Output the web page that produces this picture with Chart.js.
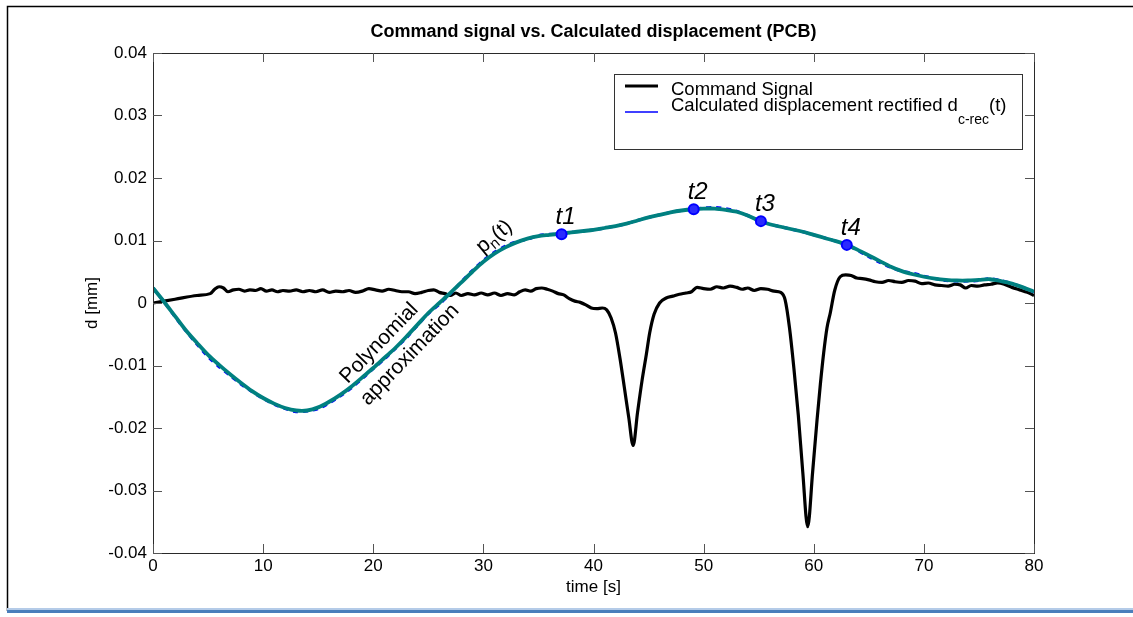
<!DOCTYPE html>
<html>
<head>
<meta charset="utf-8">
<title>Command signal vs. Calculated displacement (PCB)</title>
<script src="https://cdn.jsdelivr.net/npm/chart.js@4.4.1/dist/chart.umd.min.js"></script>
<style>
html, body { margin: 0; padding: 0; background: #fff; }
#wrap { width: 1133px; height: 617px; }
</style>
</head>
<body>
<div id="wrap"><canvas id="chart" width="1133" height="617"></canvas></div>
<script>
// command signal d(t) [mm]
var cmdTime = [
  0, 2, 4, 5.2, 5.6, 6.0, 6.4, 6.8, 7.3, 7.8,
  8.3, 8.8, 9.3, 9.8, 10.3, 10.8, 11.3, 11.8, 12.4, 13.0,
  13.6, 14.2, 14.8, 15.4, 16.0, 16.6, 17.2, 17.8, 18.4, 19.0,
  19.6, 20.2, 20.8, 21.4, 22.0, 22.6, 23.2, 23.8, 24.4, 25.0,
  25.5, 26.0, 26.5, 27.0, 27.5, 28.0, 28.6, 29.2, 29.8, 30.4,
  31.0, 31.6, 32.2, 32.8, 33.3, 33.8, 34.3, 34.8, 35.3, 35.8,
  36.3, 36.8, 37.3, 37.8, 38.3, 38.8, 39.3, 39.8, 40.3, 40.8,
  41.2, 41.6, 42.0, 42.4, 42.8, 43.2, 43.6, 44.0, 44.4, 44.8,
  45.1, 45.5, 46.0, 46.6, 47.2, 47.8, 48.4, 48.9, 49.4, 50.0,
  50.6, 51.2, 51.8, 52.4, 53.0, 53.5, 54.0, 54.6, 55.2, 55.8,
  56.4, 57.0, 57.4, 57.8, 58.2, 58.6, 59.0, 59.45, 59.9, 60.3,
  60.6, 60.9, 61.2, 61.5, 61.9, 62.4, 62.9, 63.4, 63.9, 64.4,
  65.0, 65.6, 66.2, 66.8, 67.4, 68.0, 68.6, 69.2, 69.8, 70.4,
  71.0, 71.6, 72.2, 72.8, 73.3, 73.8, 74.3, 74.9, 75.5, 76.1,
  76.7, 77.3, 78.0, 78.7, 79.4, 80.0
];
var cmdValue = [
  0.0000, 0.0006, 0.0012, 0.0015, 0.0022, 0.0026, 0.0024, 0.0018, 0.0021, 0.0022,
  0.0019, 0.0021, 0.0020, 0.0023, 0.0019, 0.0021, 0.0018, 0.0020, 0.0019, 0.0021,
  0.0018, 0.0020, 0.0018, 0.0021, 0.0017, 0.0019, 0.0018, 0.0020, 0.0017, 0.0019,
  0.0023, 0.0021, 0.0019, 0.0022, 0.0020, 0.0018, 0.0018, 0.0015, 0.0017, 0.0020,
  0.0021, 0.0017, 0.0015, 0.0012, 0.0016, 0.0012, 0.0015, 0.0013, 0.0016, 0.0013,
  0.0016, 0.0012, 0.0015, 0.0013, 0.0018, 0.0021, 0.0019, 0.0023, 0.0024, 0.0022,
  0.0019, 0.0015, 0.0013, 0.0007, 0.0003, 0.0001, -0.0003, -0.0008, -0.0009, -0.0008,
  -0.0011, -0.0024, -0.0048, -0.0088, -0.0135, -0.0183, -0.0228, -0.0175, -0.0125, -0.0082,
  -0.0048, -0.0018, 0.0000, 0.0008, 0.0011, 0.0014, 0.0016, 0.0018, 0.0025, 0.0023,
  0.0022, 0.0026, 0.0024, 0.0027, 0.0025, 0.0022, 0.0024, 0.0020, 0.0023, 0.0022,
  0.0019, 0.0017, 0.0005, -0.0040, -0.0105, -0.0180, -0.0270, -0.0358, -0.0270, -0.0187,
  -0.0130, -0.0080, -0.0040, -0.0016, 0.0020, 0.0042, 0.0045, 0.0044, 0.0040, 0.0039,
  0.0037, 0.0034, 0.0033, 0.0036, 0.0034, 0.0033, 0.0036, 0.0035, 0.0031, 0.0032,
  0.0029, 0.0028, 0.0027, 0.0030, 0.0029, 0.0024, 0.0028, 0.0027, 0.0029, 0.0030,
  0.0032, 0.0030, 0.0025, 0.0021, 0.0017, 0.0012
];

// polynomial approximation p_n(t) and rectified displacement d_c-rec(t), same time base
var polyTime = [
  0, 1, 2, 3, 4, 5, 6, 7, 8, 9,
  10, 11, 12, 13, 14, 15, 16, 17, 18, 19,
  20, 21, 22, 23, 24, 25, 26, 27, 28, 29,
  30, 31, 32, 33, 34, 35, 36, 37, 38, 39,
  40, 41, 42, 43, 44, 45, 46, 47, 48, 49,
  50, 51, 52, 53, 54, 55, 56, 57, 58, 59,
  60, 61, 62, 63, 64, 65, 66, 67, 68, 69,
  70, 71, 72, 73, 74, 75, 76, 77, 78, 79,
  80
];
var polyValue = [
  0.0024, 0.0002, -0.0021, -0.0044, -0.0064, -0.0083, -0.0099, -0.0114, -0.0128, -0.0141,
  -0.0152, -0.0161, -0.0168, -0.0172, -0.0172, -0.0167, -0.0158, -0.0147, -0.0134, -0.0119,
  -0.0104, -0.0088, -0.0072, -0.0054, -0.0035, -0.0016, 0.0000, 0.0016, 0.0033, 0.0050,
  0.0066, 0.0079, 0.0089, 0.0097, 0.0103, 0.0107, 0.0109, 0.0111, 0.0113, 0.0115,
  0.0117, 0.0120, 0.0123, 0.0127, 0.0132, 0.0137, 0.0141, 0.0145, 0.0148, 0.0150,
  0.0151, 0.0151, 0.0149, 0.0146, 0.0140, 0.0132, 0.0126, 0.0122, 0.0118, 0.0114,
  0.0109, 0.0104, 0.0099, 0.0093, 0.0085, 0.0076, 0.0067, 0.0058, 0.0051, 0.0046,
  0.0042, 0.0039, 0.0037, 0.0036, 0.0036, 0.0037, 0.0038, 0.0035, 0.0031, 0.0025,
  0.0018
];
var calcValue = [
  0.0024, 0.0002, -0.0022, -0.0045, -0.0066, -0.0086, -0.0102, -0.0116, -0.0130, -0.0142,
  -0.0153, -0.0162, -0.0169, -0.0174, -0.0173, -0.0169, -0.0160, -0.0149, -0.0136, -0.0121,
  -0.0105, -0.0090, -0.0073, -0.0056, -0.0036, -0.0017, -0.0002, 0.0015, 0.0034, 0.0052,
  0.0068, 0.0081, 0.0091, 0.0098, 0.0102, 0.0108, 0.0110, 0.0110, 0.0113, 0.0115,
  0.0117, 0.0120, 0.0123, 0.0127, 0.0132, 0.0137, 0.0141, 0.0145, 0.0148, 0.0150,
  0.0152, 0.0153, 0.0151, 0.0147, 0.0140, 0.0132, 0.0126, 0.0122, 0.0118, 0.0114,
  0.0109, 0.0104, 0.0099, 0.0093, 0.0084, 0.0074, 0.0065, 0.0057, 0.0051, 0.0048,
  0.0043, 0.0039, 0.0036, 0.0035, 0.0035, 0.0036, 0.0039, 0.0036, 0.0031, 0.0025,
  0.0018
];

// marked instants t1..t4
var markLabel = ['t1', 't2', 't3', 't4'];
var markTime = [37.1, 49.1, 55.2, 63.0];
var markValue = [0.0110, 0.0150, 0.0131, 0.0093];

var xTicks = [0, 10, 20, 30, 40, 50, 60, 70, 80];
var yTicks = [-0.04, -0.03, -0.02, -0.01, 0, 0.01, 0.02, 0.03, 0.04];

var FONT = '"Liberation Sans", Arial, sans-serif';
var TEAL = '#008080';
var BLUE = '#0000ff';

function zip(xs, ys) {
  var out = [];
  for (var i = 0; i < xs.length; i++) out.push({x: xs[i], y: ys[i]});
  return out;
}

function fmtY(v) {
  if (Math.abs(v) < 1e-9) return '0';
  return v.toFixed(2);
}

// draws "base" + subscript + "tail" starting at x (left aligned)
function drawSub(ctx, x, y, base, sub, tail, size, subSize, subDrop) {
  ctx.font = size + 'px ' + FONT;
  ctx.fillText(base, x, y);
  x += ctx.measureText(base).width;
  ctx.font = subSize + 'px ' + FONT;
  ctx.fillText(sub, x, y + subDrop);
  x += ctx.measureText(sub).width;
  ctx.font = size + 'px ' + FONT;
  ctx.fillText(tail, x, y);
  return x + ctx.measureText(tail).width;
}

var figurePlugin = {
  id: 'figure',
  beforeDraw: function (chart) {
    var ctx = chart.ctx;
    ctx.save();
    ctx.fillStyle = '#fff';
    ctx.fillRect(0, 0, chart.width, chart.height);
    // outer frame
    ctx.strokeStyle = '#000';
    ctx.lineWidth = 1.5;
    ctx.beginPath();
    ctx.moveTo(7.5, 611);
    ctx.lineTo(7.5, 6.5);
    ctx.lineTo(1133, 6.5);
    ctx.stroke();
    ctx.fillStyle = '#b4cbe8';
    ctx.fillRect(7, 608, 1126, 2);
    ctx.fillStyle = '#4a7ebb';
    ctx.fillRect(7, 610, 1126, 3);
    ctx.restore();
  },
  afterDatasetsDraw: function (chart) {
    var ctx = chart.ctx;
    var a = chart.chartArea;
    var xs = chart.scales.x, ys = chart.scales.y;
    ctx.save();

    // axes box with inward ticks on all four sides
    ctx.strokeStyle = '#2a2a2a';
    ctx.lineWidth = 1;
    ctx.strokeRect(Math.round(a.left) + 0.5, Math.round(a.top) + 0.5,
      Math.round(a.right - a.left), Math.round(a.bottom - a.top));
    ctx.strokeStyle = '#555';
    ctx.beginPath();
    xTicks.forEach(function (v) {
      var px = Math.round(xs.getPixelForValue(v)) + 0.5;
      ctx.moveTo(px, a.bottom); ctx.lineTo(px, a.bottom - 9);
      ctx.moveTo(px, a.top); ctx.lineTo(px, a.top + 9);
    });
    yTicks.forEach(function (v) {
      var py = Math.round(ys.getPixelForValue(v)) + 0.5;
      ctx.moveTo(a.left, py); ctx.lineTo(a.left + 9, py);
      ctx.moveTo(a.right, py); ctx.lineTo(a.right - 9, py);
    });
    ctx.stroke();

    // tick labels
    ctx.fillStyle = '#000';
    ctx.font = '17px ' + FONT;
    ctx.textAlign = 'right';
    ctx.textBaseline = 'middle';
    yTicks.forEach(function (v) {
      ctx.fillText(fmtY(v), a.left - 6, ys.getPixelForValue(v));
    });
    ctx.textAlign = 'center';
    ctx.textBaseline = 'top';
    xTicks.forEach(function (v) {
      ctx.fillText(String(v), xs.getPixelForValue(v), a.bottom + 5);
    });

    // axis titles
    ctx.font = '17px ' + FONT;
    ctx.fillText('time [s]', (a.left + a.right) / 2, a.bottom + 26);
    ctx.save();
    ctx.translate(92, (a.top + a.bottom) / 2);
    ctx.rotate(-Math.PI / 2);
    ctx.textBaseline = 'middle';
    ctx.fillText('d [mm]', 0, 0);
    ctx.restore();

    // title
    ctx.font = 'bold 18px ' + FONT;
    ctx.textBaseline = 'middle';
    ctx.fillText('Command signal vs. Calculated displacement (PCB)', (a.left + a.right) / 2, 32);

    // t1..t4 labels above the marked points
    ctx.font = 'italic 24px ' + FONT;
    ctx.textBaseline = 'alphabetic';
    for (var i = 0; i < markLabel.length; i++) {
      ctx.fillText(markLabel[i], xs.getPixelForValue(markTime[i]) + 4,
        ys.getPixelForValue(markValue[i]) - 10);
    }

    // p_n(t) along the rising part of the curve
    ctx.save();
    ctx.translate(xs.getPixelForValue(31.0), ys.getPixelForValue(0.0106));
    ctx.rotate(-40 * Math.PI / 180);
    ctx.textAlign = 'left';
    ctx.font = '21px ' + FONT;
    var w = ctx.measureText('p').width;
    ctx.font = '15px ' + FONT;
    w += ctx.measureText('n').width;
    ctx.font = '21px ' + FONT;
    w += ctx.measureText('(t)').width;
    ctx.textBaseline = 'middle';
    drawSub(ctx, -w / 2, 0, 'p', 'n', '(t)', 21, 15, 6);
    ctx.restore();

    // two-line note either side of the curve
    ctx.save();
    ctx.translate(xs.getPixelForValue(21.93), ys.getPixelForValue(-0.00736));
    ctx.rotate(-46 * Math.PI / 180);
    ctx.textAlign = 'center';
    ctx.textBaseline = 'middle';
    ctx.font = '21px ' + FONT;
    ctx.fillText('Polynomial', -6.5, -15);
    ctx.fillText('approximation', 6.5, 15);
    ctx.restore();

    // legend
    ctx.fillStyle = '#fff';
    ctx.fillRect(615, 75, 407, 74);
    ctx.strokeStyle = '#333';
    ctx.lineWidth = 1;
    ctx.strokeRect(614.5, 74.5, 408, 75);
    ctx.strokeStyle = '#000';
    ctx.lineWidth = 3;
    ctx.beginPath(); ctx.moveTo(625, 86); ctx.lineTo(658, 86); ctx.stroke();
    ctx.strokeStyle = BLUE;
    ctx.lineWidth = 1.5;
    ctx.beginPath(); ctx.moveTo(625, 112); ctx.lineTo(658, 112); ctx.stroke();
    ctx.fillStyle = '#000';
    ctx.textAlign = 'left';
    ctx.textBaseline = 'alphabetic';
    ctx.font = '18.5px ' + FONT;
    ctx.fillText('Command Signal', 671, 95);
    drawSub(ctx, 671, 111, 'Calculated displacement rectified d', 'c-rec', '(t)', 18.5, 14, 13);

    ctx.restore();
  }
};

var ctxEl = document.getElementById('chart').getContext('2d');
var chart = new Chart(ctxEl, {
  type: 'scatter',
  data: {
    datasets: [
      {
        label: 't1..t4',
        data: zip(markTime, markValue),
        showLine: false,
        pointRadius: 5,
        pointBackgroundColor: '#2a2aff',
        pointBorderColor: BLUE,
        pointBorderWidth: 2,
        order: 0
      },
      {
        label: 'Polynomial approximation',
        data: zip(polyTime, polyValue),
        showLine: true,
        borderColor: TEAL,
        borderWidth: 3.8,
        pointRadius: 0,
        tension: 0.3,
        order: 1
      },
      {
        label: 'Calculated displacement rectified',
        data: zip(polyTime, calcValue),
        showLine: true,
        borderColor: BLUE,
        borderWidth: 3,
        borderDash: [5, 5],
        pointRadius: 0,
        tension: 0.3,
        order: 2
      },
      {
        label: 'Command Signal',
        data: zip(cmdTime, cmdValue),
        showLine: true,
        borderColor: '#000',
        borderWidth: 3.2,
        pointRadius: 0,
        cubicInterpolationMode: 'monotone',
        order: 3
      }
    ]
  },
  options: {
    responsive: false,
    animation: false,
    events: [],
    layout: { padding: { left: 0, top: 53, right: 99, bottom: 0 } },
    plugins: {
      legend: { display: false },
      title: { display: false },
      tooltip: { enabled: false }
    },
    scales: {
      x: {
        type: 'linear',
        min: 0, max: 80,
        ticks: { display: false, stepSize: 10 },
        grid: { display: false },
        border: { display: false },
        afterFit: function (s) { s.height = 64; }
      },
      y: {
        type: 'linear',
        min: -0.04, max: 0.04,
        ticks: { display: false, stepSize: 0.01 },
        grid: { display: false },
        border: { display: false },
        afterFit: function (s) { s.width = 153; }
      }
    }
  },
  plugins: [figurePlugin]
});
</script>
</body>
</html>
